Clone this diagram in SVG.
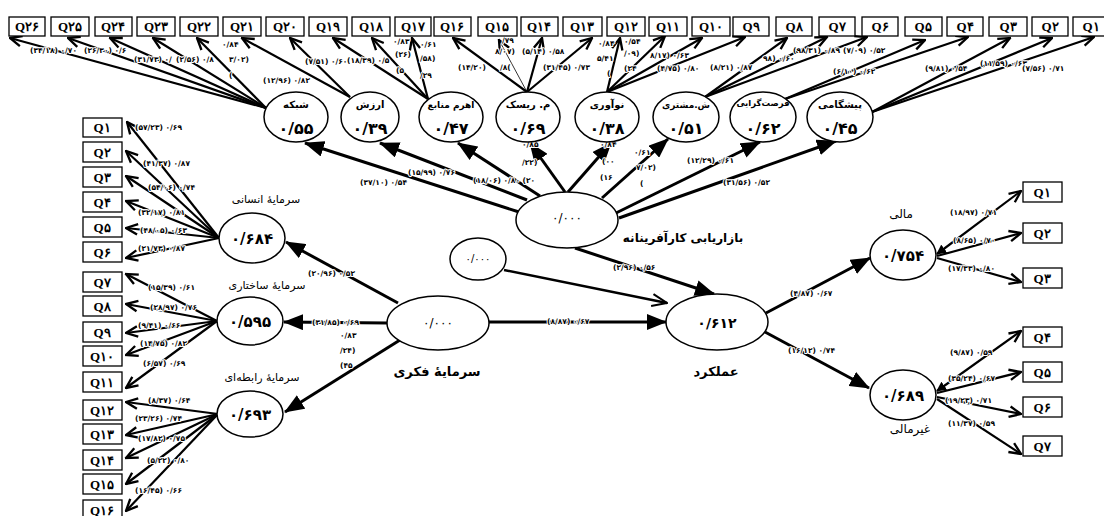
<svg xmlns="http://www.w3.org/2000/svg" width="1104" height="516" viewBox="0 0 1104 516">
<defs>
<marker id="chev" markerUnits="userSpaceOnUse" markerWidth="14" markerHeight="14" viewBox="0 0 12 12" refX="11" refY="6" orient="auto">
<path d="M1,1.5 L11,6 L1,10.5" fill="none" stroke="#000" stroke-width="2"/>
</marker>
<marker id="tri" markerUnits="userSpaceOnUse" markerWidth="20" markerHeight="16" viewBox="0 0 20 16" refX="19" refY="8" orient="auto">
<path d="M0,0 L20,8 L0,16 z" fill="#000"/>
</marker>
<marker id="open" markerUnits="userSpaceOnUse" markerWidth="18" markerHeight="16" viewBox="0 0 18 16" refX="17" refY="8" orient="auto">
<path d="M2,2 L17,8 L2,14" fill="none" stroke="#000" stroke-width="2"/>
</marker>
<marker id="sm" markerUnits="userSpaceOnUse" markerWidth="10" markerHeight="10" viewBox="0 0 10 10" refX="1" refY="5" orient="auto">
<path d="M10,0 L0,5 L10,10 z" fill="#000"/>
</marker>
</defs>
<style>
.box{fill:#fff;stroke:#000;stroke-width:1.3}
.ell{fill:#fff;stroke:#000;stroke-width:1.5}
.m{stroke:#000;stroke-width:2.2;fill:none;marker-end:url(#chev)}
.s{stroke:#000;stroke-width:3;fill:none;marker-end:url(#tri)}
.q{font-family:"Liberation Serif","DejaVu Serif",serif;font-weight:bold;font-size:13px;text-anchor:middle}
.lbl{font-family:"DejaVu Sans",sans-serif;font-weight:bold;font-size:7.5px;paint-order:stroke;stroke:#fff;stroke-width:2px;stroke-linejoin:round}
.nm{font-family:"DejaVu Sans",sans-serif;font-weight:bold;font-size:10px;text-anchor:middle}
.val{font-family:"DejaVu Sans",sans-serif;font-weight:bold;font-size:16px;text-anchor:middle}
.cap{font-family:"DejaVu Sans",sans-serif;font-size:11px;text-anchor:middle}
.capb{font-family:"DejaVu Sans",sans-serif;font-weight:bold;font-size:13px;text-anchor:middle}
.zero{font-family:"DejaVu Sans",sans-serif;font-size:12px;text-anchor:middle;letter-spacing:3px}
</style>
<rect width="1104" height="516" fill="#fff"/>

<g id="connectors">
<line class="s" x1="519" y1="212" x2="305" y2="143"/>
<line class="s" x1="527" y1="200" x2="380" y2="143"/>
<line class="s" x1="540" y1="196" x2="458" y2="143"/>
<line class="s" x1="565" y1="192" x2="530" y2="143"/>
<line class="s" x1="568" y1="192" x2="611" y2="143"/>
<line class="s" x1="602" y1="198" x2="668" y2="139"/>
<line class="s" x1="616" y1="213" x2="760" y2="142"/>
<line class="s" x1="619" y1="218" x2="836" y2="141"/>
<line class="s" x1="575" y1="248" x2="714" y2="294"/>
<line x1="504" y1="270" x2="667" y2="303" stroke="#000" stroke-width="2.5" marker-end="url(#open)"/>
<line class="s" x1="489" y1="322" x2="666" y2="322"/>
<line class="s" x1="387" y1="323" x2="284" y2="322"/>
<line class="s" x1="398" y1="303" x2="286" y2="242"/>
<line class="s" x1="400" y1="340" x2="285" y2="412"/>
<line class="s" x1="766" y1="313" x2="870" y2="258"/>
<line class="s" x1="765" y1="332" x2="869" y2="388"/>
<line class="m" x1="266" y1="108" x2="10" y2="38"/>
<line class="m" x1="266" y1="108" x2="68" y2="38"/>
<line class="m" x1="266" y1="108" x2="110" y2="38"/>
<line class="m" x1="266" y1="108" x2="153" y2="38"/>
<line class="m" x1="266" y1="108" x2="197" y2="38"/>
<line class="m" x1="350" y1="97" x2="242" y2="38"/>
<line class="m" x1="350" y1="97" x2="290" y2="38"/>
<line class="m" x1="428" y1="99" x2="333" y2="38"/>
<line class="m" x1="428" y1="99" x2="372" y2="38"/>
<line class="m" x1="428" y1="99" x2="412" y2="38"/>
<line class="m" x1="527" y1="92" x2="453" y2="38"/>
<line x1="527" y1="92" x2="499" y2="40" stroke="#000" stroke-width="0.8" marker-end="url(#chev)"/>
<line class="m" x1="527" y1="92" x2="542" y2="38"/>
<line class="m" x1="527" y1="92" x2="592" y2="38"/>
<line class="m" x1="607" y1="92" x2="620" y2="38"/>
<line class="m" x1="607" y1="92" x2="665" y2="36"/>
<line class="m" x1="607" y1="92" x2="702" y2="38"/>
<line class="m" x1="607" y1="92" x2="745" y2="37"/>
<line class="m" x1="705" y1="97" x2="787" y2="38"/>
<line class="m" x1="705" y1="97" x2="827" y2="37"/>
<line class="m" x1="705" y1="97" x2="867" y2="37"/>
<line class="m" x1="785" y1="99" x2="925" y2="40"/>
<line class="m" x1="785" y1="99" x2="968" y2="37"/>
<line class="m" x1="872" y1="112" x2="1010" y2="38"/>
<line class="m" x1="872" y1="112" x2="1052" y2="38"/>
<line class="m" x1="872" y1="112" x2="1094" y2="37"/>
<line class="m" x1="219" y1="238" x2="127" y2="122"/>
<line class="m" x1="219" y1="238" x2="126" y2="151"/>
<line class="m" x1="219" y1="238" x2="126" y2="176"/>
<line class="m" x1="219" y1="238" x2="126" y2="201"/>
<line class="m" x1="219" y1="238" x2="126" y2="228"/>
<line class="m" x1="219" y1="238" x2="126" y2="258"/>
<line class="m" x1="217" y1="321" x2="126" y2="274"/>
<line class="m" x1="217" y1="321" x2="126" y2="304"/>
<line class="m" x1="217" y1="321" x2="126" y2="333"/>
<line class="m" x1="217" y1="321" x2="126" y2="355"/>
<line class="m" x1="217" y1="321" x2="126" y2="388"/>
<line class="m" x1="218" y1="414" x2="126" y2="402"/>
<line class="m" x1="218" y1="414" x2="126" y2="435"/>
<line class="m" x1="218" y1="414" x2="126" y2="458"/>
<line class="m" x1="218" y1="414" x2="126" y2="484"/>
<line class="m" x1="218" y1="414" x2="126" y2="511"/>
<line class="m" x1="937" y1="254" x2="1021" y2="191" marker-start="url(#sm)"/>
<line class="m" x1="937" y1="256" x2="1021" y2="233"/>
<line class="m" x1="937" y1="258" x2="1021" y2="282"/>
<line class="m" x1="937" y1="391" x2="1021" y2="331" marker-start="url(#sm)"/>
<line class="m" x1="937" y1="393" x2="1021" y2="372"/>
<line class="m" x1="937" y1="397" x2="1021" y2="414"/>
<line class="m" x1="937" y1="399" x2="1021" y2="454"/>
</g>

<g id="connector-labels">
<text class="lbl" x="30" y="53">(۳۴/۱۸) ۰/۷۰</text>
<text class="lbl" x="84" y="53">(۲۶/۳۰) ۰/۶</text>
<text class="lbl" x="134" y="62">(۳۱/۷۳) ۰/</text>
<text class="lbl" x="176" y="62">(۲/۵۶) ۰/۸</text>
<text class="lbl" x="222" y="47">۰/۸۴</text>
<text class="lbl" x="229" y="62">۳/۰۲)</text>
<text class="lbl" x="229" y="78">(</text>
<text class="lbl" x="305" y="64">(۷/۵۱) ۰/۶۰</text>
<text class="lbl" x="263" y="83">(۱۲/۹۶) ۰/۸۲</text>
<text class="lbl" x="347" y="63">(۱۸/۳۹) ۰/۵</text>
<text class="lbl" x="393" y="44">۰/۸۳</text>
<text class="lbl" x="395" y="57">(۲۶)</text>
<text class="lbl" x="396" y="73">(۵</text>
<text class="lbl" x="420" y="47">۰/۶۱</text>
<text class="lbl" x="420" y="61">/۵۸)</text>
<text class="lbl" x="420" y="78">/۲۹</text>
<text class="lbl" x="502" y="43">/۷۹</text>
<text class="lbl" x="495" y="54">۸/۰۷)</text>
<text class="lbl" x="522" y="54">(۵/۱۴) ۰/۵۸</text>
<text class="lbl" x="458" y="70">(۱۴/۲۰)</text>
<text class="lbl" x="500" y="70">/۸(</text>
<text class="lbl" x="543" y="70">(۳۱/۴۵) ۰/۷۳</text>
<text class="lbl" x="598" y="46">۰/۸۴</text>
<text class="lbl" x="624" y="44">۰/۵۴</text>
<text class="lbl" x="597" y="61">۵/۴۱</text>
<text class="lbl" x="624" y="56">/۰۹)</text>
<text class="lbl" x="607" y="76">(</text>
<text class="lbl" x="624" y="71">(۲۴</text>
<text class="lbl" x="650" y="58">۸/۱۷) ۰/۶۳</text>
<text class="lbl" x="657" y="71">(۴/۷۵) ۰/۸۰</text>
<text class="lbl" x="710" y="70">(۸/۲۱) ۰/۸۷</text>
<text class="lbl" x="763" y="61">۹۸) ۰/۶۰</text>
<text class="lbl" x="793" y="53">(۹۸/۳۱) ۰/۸۹</text>
<text class="lbl" x="843" y="53">(۷/۰۹) ۰/۵۲</text>
<text class="lbl" x="833" y="74">(۶/۱۰) ۰/۶۲</text>
<text class="lbl" x="925" y="71">(۹/۸۱) ۰/۵۴</text>
<text class="lbl" x="980" y="66">(۱۱/۵۹) ۰/۶۳</text>
<text class="lbl" x="1022" y="71">(۷/۵۶) ۰/۷۱</text>

<text class="lbl" x="360" y="185">(۳۷/۱۰) ۰/۵۴</text>
<text class="lbl" x="408" y="175">(۱۵/۹۹) ۰/۷۶</text>
<text class="lbl" x="473" y="183">(۱۸/۰۶) ۰/۸۰ (۲۰</text>
<text class="lbl" x="522" y="147">۰/۸۵</text>
<text class="lbl" x="522" y="165">/۲۲)</text>
<text class="lbl" x="600" y="147">۰/۸۴</text>
<text class="lbl" x="602" y="164">(۰۰</text>
<text class="lbl" x="600" y="180">(۱۶</text>
<text class="lbl" x="634" y="155">۰/۶۱</text>
<text class="lbl" x="636" y="170">۷/۰۲)</text>
<text class="lbl" x="640" y="186">(</text>
<text class="lbl" x="687" y="163">(۱۲/۲۹) ۰/۶۱</text>
<text class="lbl" x="723" y="185">(۳۱/۵۶) ۰/۵۲</text>
<text class="lbl" x="613" y="270">(۲/۹۶) ۰/۵۶</text>
<text class="lbl" x="547" y="324">(۸/۸۷) ۰/۶۷</text>
<text class="lbl" x="790" y="296">(۴/۸۷) ۰/۶۷</text>
<text class="lbl" x="788" y="353">(۱۶/۱۲) ۰/۷۴</text>
<text class="lbl" x="312" y="325">(۳۱/۸۵) ۰/۶۹</text>
<text class="lbl" x="308" y="276">(۲۰/۹۶) ۰/۵۲</text>
<text class="lbl" x="340" y="338">۰/۸۳</text>
<text class="lbl" x="340" y="353">/۲۴)</text>
<text class="lbl" x="340" y="368">(۴۵</text>

<text class="lbl" x="135" y="130">(۵۷/۲۳) ۰/۶۹</text>
<text class="lbl" x="143" y="166">(۴۱/۳۷) ۰/۸۷</text>
<text class="lbl" x="148" y="190">(۵۴/۰۶) ۰/۷۴</text>
<text class="lbl" x="138" y="215">(۳۲/۱۷) ۰/۸۱</text>
<text class="lbl" x="140" y="233">(۴۸/۰۵) ۰/۶۳</text>
<text class="lbl" x="138" y="251">(۲۱/۷۳) ۰/۸۷</text>
<text class="lbl" x="148" y="290">(۱۵/۳۹) ۰/۶۱</text>
<text class="lbl" x="150" y="310">(۲۸/۹۷) ۰/۷۶</text>
<text class="lbl" x="138" y="328">(۹/۴۱) ۰/۶۶</text>
<text class="lbl" x="140" y="346">(۱۴/۷۵) ۰/۸۲</text>
<text class="lbl" x="143" y="366">(۶/۵۷) ۰/۶۹</text>
<text class="lbl" x="148" y="403">(۸/۳۷) ۰/۶۴</text>
<text class="lbl" x="135" y="421">(۲۳/۲۶) ۰/۷۴</text>
<text class="lbl" x="138" y="441">(۱۷/۸۲) ۰/۷۵</text>
<text class="lbl" x="147" y="463">(۵/۲۲) ۰/۸۰</text>
<text class="lbl" x="135" y="493">(۱۶/۴۵) ۰/۶۶</text>

<text class="lbl" x="950" y="215">(۱۸/۹۷) ۰/۷۱</text>
<text class="lbl" x="953" y="243">(۸/۶۵) ۰/۷۰</text>
<text class="lbl" x="948" y="271">(۱۷/۳۳) ۰/۸۰</text>
<text class="lbl" x="950" y="355">(۹/۸۷) ۰/۵۹</text>
<text class="lbl" x="948" y="381">(۳۵/۲۴) ۰/۶۷</text>
<text class="lbl" x="945" y="403">(۱۹/۲۳) ۰/۷۱</text>
<text class="lbl" x="948" y="426">(۱۱/۳۷) ۰/۵۹</text>
</g>

<g id="tQ26"><rect class="box" x="9" y="17" width="36" height="19"/><text class="q" x="27" y="31">Q۲۶</text></g>
<g id="tQ25"><rect class="box" x="51" y="17" width="38" height="19"/><text class="q" x="70" y="31">Q۲۵</text></g>
<g id="tQ24"><rect class="box" x="95" y="17" width="37" height="19"/><text class="q" x="113" y="31">Q۲۴</text></g>
<g id="tQ23"><rect class="box" x="137" y="17" width="38" height="19"/><text class="q" x="156" y="31">Q۲۳</text></g>
<g id="tQ22"><rect class="box" x="180" y="17" width="38" height="19"/><text class="q" x="199" y="31">Q۲۲</text></g>
<g id="tQ21"><rect class="box" x="223" y="17" width="38" height="19"/><text class="q" x="242" y="31">Q۲۱</text></g>
<g id="tQ20"><rect class="box" x="266" y="17" width="38" height="19"/><text class="q" x="285" y="31">Q۲۰</text></g>
<g id="tQ19"><rect class="box" x="309" y="17" width="38" height="19"/><text class="q" x="328" y="31">Q۱۹</text></g>
<g id="tQ18"><rect class="box" x="352" y="17" width="38" height="19"/><text class="q" x="371" y="31">Q۱۸</text></g>
<g id="tQ17"><rect class="box" x="395" y="17" width="36" height="19"/><text class="q" x="413" y="31">Q۱۷</text></g>
<g id="tQ16"><rect class="box" x="434" y="17" width="37" height="19"/><text class="q" x="452" y="31">Q۱۶</text></g>
<g id="tQ15"><rect class="box" x="478" y="17" width="39" height="19"/><text class="q" x="497" y="31">Q۱۵</text></g>
<g id="tQ14"><rect class="box" x="521" y="17" width="37" height="19"/><text class="q" x="539" y="31">Q۱۴</text></g>
<g id="tQ13"><rect class="box" x="563" y="17" width="39" height="19"/><text class="q" x="582" y="31">Q۱۳</text></g>
<g id="tQ12"><rect class="box" x="607" y="17" width="38" height="19"/><text class="q" x="626" y="31">Q۱۲</text></g>
<g id="tQ11"><rect class="box" x="649" y="17" width="38" height="19"/><text class="q" x="668" y="31">Q۱۱</text></g>
<g id="tQ10"><rect class="box" x="692" y="17" width="38" height="19"/><text class="q" x="711" y="31">Q۱۰</text></g>
<g id="tQ9"><rect class="box" x="733" y="17" width="36" height="19"/><text class="q" x="751" y="31">Q۹</text></g>
<g id="tQ8"><rect class="box" x="776" y="17" width="36" height="19"/><text class="q" x="794" y="31">Q۸</text></g>
<g id="tQ7"><rect class="box" x="819" y="17" width="36" height="19"/><text class="q" x="837" y="31">Q۷</text></g>
<g id="tQ6"><rect class="box" x="862" y="17" width="36" height="19"/><text class="q" x="880" y="31">Q۶</text></g>
<g id="tQ5"><rect class="box" x="905" y="17" width="37" height="19"/><text class="q" x="923" y="31">Q۵</text></g>
<g id="tQ4"><rect class="box" x="947" y="17" width="36" height="19"/><text class="q" x="965" y="31">Q۴</text></g>
<g id="tQ3"><rect class="box" x="989" y="17" width="38" height="19"/><text class="q" x="1008" y="31">Q۳</text></g>
<g id="tQ2"><rect class="box" x="1032" y="17" width="36" height="19"/><text class="q" x="1050" y="31">Q۲</text></g>
<g id="tQ1"><rect class="box" x="1073" y="17" width="36" height="19"/><text class="q" x="1091" y="31">Q۱</text></g>

<g id="lQ1"><rect class="box" x="83" y="118" width="39" height="19"/><text class="q" x="102" y="132">Q۱</text></g>
<g id="lQ2"><rect class="box" x="83" y="142" width="39" height="20"/><text class="q" x="102" y="157">Q۲</text></g>
<g id="lQ3"><rect class="box" x="83" y="167" width="39" height="20"/><text class="q" x="102" y="182">Q۳</text></g>
<g id="lQ4"><rect class="box" x="83" y="192" width="39" height="20"/><text class="q" x="102" y="207">Q۴</text></g>
<g id="lQ5"><rect class="box" x="83" y="217" width="39" height="20"/><text class="q" x="102" y="232">Q۵</text></g>
<g id="lQ6"><rect class="box" x="83" y="242" width="39" height="20"/><text class="q" x="102" y="257">Q۶</text></g>
<g id="lQ7"><rect class="box" x="83" y="272" width="39" height="20"/><text class="q" x="102" y="287">Q۷</text></g>
<g id="lQ8"><rect class="box" x="83" y="296" width="39" height="20"/><text class="q" x="102" y="311">Q۸</text></g>
<g id="lQ9"><rect class="box" x="83" y="322" width="39" height="20"/><text class="q" x="102" y="337">Q۹</text></g>
<g id="lQ10"><rect class="box" x="83" y="346" width="39" height="20"/><text class="q" x="102" y="361">Q۱۰</text></g>
<g id="lQ11"><rect class="box" x="83" y="372" width="39" height="20"/><text class="q" x="102" y="387">Q۱۱</text></g>
<g id="lQ12"><rect class="box" x="83" y="400" width="39" height="20"/><text class="q" x="102" y="415">Q۱۲</text></g>
<g id="lQ13"><rect class="box" x="83" y="424" width="39" height="20"/><text class="q" x="102" y="439">Q۱۳</text></g>
<g id="lQ14"><rect class="box" x="83" y="450" width="39" height="20"/><text class="q" x="102" y="465">Q۱۴</text></g>
<g id="lQ15"><rect class="box" x="83" y="474" width="39" height="20"/><text class="q" x="102" y="489">Q۱۵</text></g>
<g id="lQ16"><rect class="box" x="83" y="500" width="39" height="20"/><text class="q" x="102" y="515">Q۱۶</text></g>

<g id="rQ1"><rect class="box" x="1023" y="182" width="39" height="20"/><text class="q" x="1042" y="197">Q۱</text></g>
<g id="rQ2"><rect class="box" x="1023" y="223" width="39" height="20"/><text class="q" x="1042" y="238">Q۲</text></g>
<g id="rQ3"><rect class="box" x="1023" y="268" width="39" height="20"/><text class="q" x="1042" y="283">Q۳</text></g>
<g id="rQ4"><rect class="box" x="1023" y="327" width="39" height="20"/><text class="q" x="1042" y="342">Q۴</text></g>
<g id="rQ5"><rect class="box" x="1023" y="362" width="39" height="20"/><text class="q" x="1042" y="377">Q۵</text></g>
<g id="rQ6"><rect class="box" x="1023" y="397" width="39" height="20"/><text class="q" x="1042" y="412">Q۶</text></g>
<g id="rQ7"><rect class="box" x="1023" y="436" width="39" height="20"/><text class="q" x="1042" y="451">Q۷</text></g>

<g id="shabake"><ellipse class="ell" cx="296" cy="117" rx="32" ry="25"/><text class="nm" x="296" y="108">شبکه</text><text class="val" x="296" y="134">۰/۵۵</text></g>
<g id="arzesh"><ellipse class="ell" cx="370" cy="117" rx="29" ry="25"/><text class="nm" x="370" y="108">ارزش</text><text class="val" x="370" y="134">۰/۳۹</text></g>
<g id="ahrom"><ellipse class="ell" cx="451" cy="117" rx="32" ry="25"/><text class="nm" x="451" y="108" style="font-size:9px">اهرم منابع</text><text class="val" x="451" y="134">۰/۴۷</text></g>
<g id="risk"><ellipse class="ell" cx="528" cy="117" rx="32" ry="25"/><text class="nm" x="528" y="108">م. ریسک</text><text class="val" x="528" y="134">۰/۶۹</text></g>
<g id="noavari"><ellipse class="ell" cx="607" cy="117" rx="32" ry="25"/><text class="nm" x="607" y="108">نوآوری</text><text class="val" x="607" y="134">۰/۳۸</text></g>
<g id="moshtari"><ellipse class="ell" cx="686" cy="117" rx="33" ry="25"/><text class="nm" x="686" y="108" style="font-size:9px">ش.مشتری</text><text class="val" x="686" y="134">۰/۵۱</text></g>
<g id="forsat"><ellipse class="ell" cx="763" cy="117" rx="33" ry="25"/><text class="nm" x="763" y="106" style="font-size:8.5px">فرصت‌گرایی</text><text class="val" x="763" y="134">۰/۶۲</text></g>
<g id="pishgami"><ellipse class="ell" cx="840" cy="117" rx="33" ry="25"/><text class="nm" x="840" y="108">پیشگامی</text><text class="val" x="840" y="134">۰/۴۵</text></g>

<g id="bazaryabi"><ellipse class="ell" cx="567" cy="220" rx="51" ry="28"/><text class="zero" x="567" y="222">۰/۰۰۰</text><text class="capb" x="683" y="242" style="font-size:12px">بازاریابی کارآفرینانه</text></g>
<g id="error"><ellipse class="ell" cx="478" cy="259" rx="28" ry="21"/><text class="zero" x="478" y="262" style="font-size:10px">۰/۰۰۰</text></g>
<g id="fekri"><ellipse class="ell" cx="438" cy="323" rx="51" ry="27"/><text class="zero" x="438" y="327">۰/۰۰۰</text><text class="capb" x="437" y="376">سرمایهٔ فکری</text></g>
<g id="amalkard"><ellipse class="ell" cx="717" cy="322" rx="51" ry="28"/><text class="val" x="717" y="328" style="font-size:14px">۰/۶۱۲</text><text class="capb" x="716" y="376">عملکرد</text></g>

<g id="ensani"><ellipse class="ell" cx="252" cy="238" rx="33" ry="25"/><text class="val" x="252" y="244" style="font-size:15px">۰/۶۸۴</text><text class="cap" x="266" y="203">سرمایهٔ انسانی</text></g>
<g id="sakhtari"><ellipse class="ell" cx="250" cy="321" rx="33" ry="24"/><text class="val" x="250" y="327" style="font-size:15px">۰/۵۹۵</text><text class="cap" x="267" y="289">سرمایهٔ ساختاری</text></g>
<g id="rabete"><ellipse class="ell" cx="250" cy="414" rx="33" ry="23"/><text class="val" x="250" y="420" style="font-size:15px">۰/۶۹۳</text><text class="cap" x="262" y="381">سرمایهٔ رابطه‌ای</text></g>

<g id="mali"><ellipse class="ell" cx="903" cy="255" rx="33" ry="25"/><text class="val" x="903" y="261" style="font-size:15px">۰/۷۵۴</text><text class="cap" x="901" y="218" style="font-size:12px">مالی</text></g>
<g id="gheirmali"><ellipse class="ell" cx="903" cy="395" rx="33" ry="25"/><text class="val" x="903" y="401" style="font-size:15px">۰/۶۸۹</text><text class="cap" x="910" y="433" style="font-size:12px">غیرمالی</text></g>
</svg>
